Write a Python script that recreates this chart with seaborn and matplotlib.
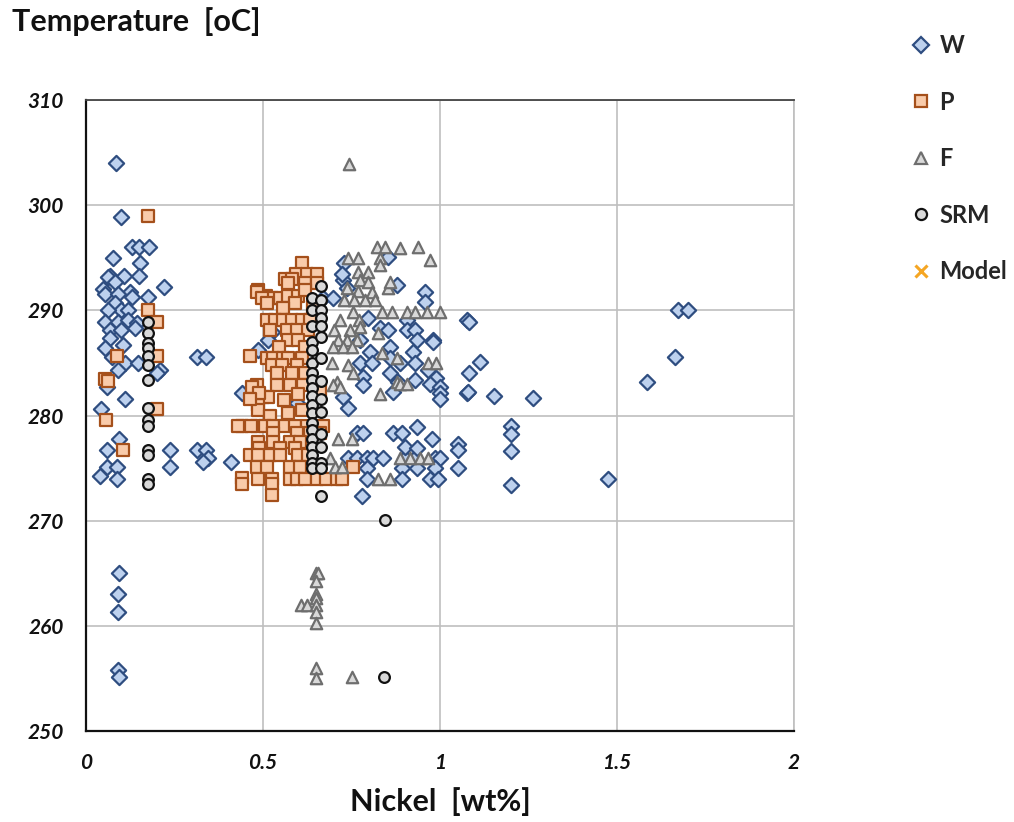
import matplotlib
matplotlib.use("Agg")
import matplotlib.pyplot as plt
from matplotlib.lines import Line2D
import seaborn as sns
import pandas as pd

# ---- data: nickel content [wt%] vs temperature [oC] ----
w_x = [0.085, 0.099, 0.13, 0.15, 0.178, 0.077, 0.153, 0.068, 0.108, 0.15, 0.062,
       0.22, 0.048, 0.082, 0.124, 0.175, 0.054, 0.09, 0.13, 0.082, 0.1, 0.119, 0.062,
       0.054, 0.09, 0.119, 0.144, 0.068, 0.1, 0.138, 0.068, 0.054, 0.104, 0.073, 0.11,
       0.147, 0.09, 0.209, 0.2, 0.059, 0.11, 0.042, 0.093, 0.059, 0.237, 0.059, 0.088,
       0.04, 0.088, 0.237, 0.313, 0.34, 0.345, 0.33, 0.41, 0.44, 0.313, 0.34,
       0.093, 0.09, 0.09, 0.09, 0.093,
       0.525, 0.514, 0.486, 0.67, 0.698, 0.726, 0.73, 0.723, 0.737,
       0.853, 0.878, 0.958, 0.958, 0.797, 0.83, 0.853, 0.907, 0.907, 0.929, 0.935, 0.98,
       1.076, 0.858, 0.802, 0.924, 0.774, 0.858, 0.774, 0.808, 0.887, 0.93, 0.783, 0.858,
       0.99, 0.93, 0.966, 0.88, 0.98,
       0.596, 0.726, 0.74, 0.783, 0.867, 0.972, 1.0, 1.0, 1.0, 1.077,
       0.765, 0.783, 0.867, 0.893, 0.935, 0.977, 1.05, 1.05,
       0.74, 0.765, 0.793, 0.81, 0.84, 0.90, 0.93, 0.986, 1.0, 0.9, 0.935,
       0.793, 0.893, 0.935, 0.986, 1.05, 0.793, 0.893, 0.972, 0.994, 0.78,
       1.082, 1.113, 1.082, 1.08, 1.153, 1.262, 1.20, 1.20, 1.20, 1.20, 1.475,
       1.672, 1.70, 1.664, 1.585]
w_y = [304.0, 298.9, 296.0, 296.0, 296.0, 295.0, 294.5, 293.3, 293.3, 293.3, 293.2,
       292.2, 292.0, 292.7, 291.7, 291.3, 291.6, 291.6, 291.3, 290.7, 290.0, 290.0, 290.0,
       288.9, 288.9, 289.1, 288.8, 288.1, 288.1, 288.3, 287.4, 286.4, 286.7, 285.6, 285.0,
       285.0, 284.3, 284.3, 284.0, 282.7, 281.6, 280.6, 277.8, 276.7, 276.7, 275.1, 275.1,
       274.2, 274.0, 275.1, 276.7, 276.7, 276.0, 275.6, 275.6, 282.1, 285.6, 285.6,
       265.0, 263.0, 261.3, 255.8, 255.1,
       287.9, 287.2, 286.2, 291.2, 291.2, 292.9, 294.5, 293.5, 292.1,
       295.1, 292.4, 291.7, 290.8, 289.3, 288.3, 288.1, 289.1, 288.1, 288.1, 287.2, 287.2,
       289.1, 286.5, 286.0, 286.0, 287.2, 285.5, 285.0, 285.0, 285.0, 285.0, 283.7, 284.0,
       283.6, 283.4, 284.3, 283.2, 287.0,
       281.2, 281.8, 280.7, 282.9, 282.2, 283.0, 282.7, 282.1, 281.6, 282.1,
       278.3, 278.3, 278.3, 278.3, 278.9, 277.8, 277.3, 276.7,
       276.0, 276.0, 276.0, 276.0, 276.0, 276.0, 276.0, 276.0, 276.0, 277.0, 276.9,
       275.0, 275.0, 275.0, 275.0, 275.0, 274.0, 274.0, 274.0, 274.0, 272.3,
       288.9, 285.1, 284.0, 282.2, 281.9, 281.7, 279.0, 278.2, 276.6, 273.4, 274.0,
       290.0, 290.0, 285.6, 283.2]

p_x = [0.175, 0.175, 0.2, 0.087, 0.2, 0.055, 0.062, 0.2, 0.056, 0.105,
       0.61, 0.593, 0.624, 0.652, 0.562, 0.582, 0.571, 0.619, 0.652,
       0.486, 0.508, 0.525, 0.548, 0.571, 0.60, 0.62, 0.483, 0.497,
       0.51, 0.59, 0.556, 0.64,
       0.51, 0.534, 0.557, 0.582, 0.61, 0.633,
       0.52, 0.568, 0.596, 0.627, 0.57, 0.60, 0.545, 0.62,
       0.463, 0.51, 0.528, 0.557, 0.571, 0.61, 0.596, 0.525, 0.553, 0.582, 0.54, 0.62,
       0.483, 0.5, 0.54, 0.576, 0.613, 0.514, 0.486, 0.486, 0.661, 0.47, 0.49, 0.463,
       0.56, 0.6, 0.52, 0.57, 0.61,
       0.44, 0.483, 0.505, 0.528, 0.562, 0.59, 0.624, 0.67, 0.43, 0.466,
       0.528, 0.596, 0.633, 0.661,
       0.486, 0.528, 0.576, 0.604,
       0.49, 0.548, 0.59,
       0.463, 0.486, 0.52, 0.548, 0.6, 0.627,
       0.483, 0.51, 0.576, 0.604, 0.66, 0.755,
       0.486, 0.525, 0.576, 0.596, 0.62, 0.652, 0.678, 0.709, 0.723,
       0.44, 0.44, 0.525, 0.525]
p_y = [299.0, 290.0, 288.9, 285.7, 285.7, 283.5, 283.3, 280.6, 279.6, 276.7,
       294.5, 293.5, 293.5, 293.5, 293.0, 293.0, 292.6, 292.6, 292.6,
       291.9, 291.4, 291.2, 291.2, 291.4, 291.4, 291.9, 291.7, 291.2,
       290.7, 290.7, 290.2, 290.3,
       289.1, 289.1, 289.1, 289.1, 289.1, 289.1,
       288.1, 288.1, 288.1, 288.1, 287.2, 287.2, 286.5, 286.5,
       285.7, 285.5, 285.5, 285.5, 285.5, 285.5, 284.8, 284.8, 284.8, 284.0, 284.0, 284.0,
       282.9, 281.8, 282.9, 282.9, 282.9, 281.8, 281.0, 280.5, 282.4, 282.7, 282.1, 281.6,
       281.5, 282.0, 280.0, 280.2, 280.5,
       279.0, 279.0, 279.0, 279.0, 279.0, 279.0, 279.0, 279.0, 279.0, 279.0,
       278.3, 278.3, 278.3, 278.3,
       277.5, 277.5, 277.5, 277.5,
       276.9, 276.9, 276.9,
       276.2, 276.2, 276.2, 276.2, 276.2, 276.2,
       275.1, 275.1, 275.1, 275.1, 275.1, 275.1,
       274.0, 274.0, 274.0, 274.0, 274.0, 274.0, 274.0, 274.0, 274.0,
       274.1, 273.5, 273.5, 272.4]

f_x = [0.743, 0.822, 0.845, 0.887, 0.938, 0.972, 0.74, 0.768, 0.83,
       0.768, 0.797, 0.83, 0.774, 0.797, 0.853, 0.858, 0.737, 0.768, 0.808,
       0.73, 0.757, 0.788, 0.816,
       0.755, 0.836, 0.864, 0.907, 0.929, 0.963, 1.0, 0.77, 0.718,
       0.70, 0.746, 0.774, 0.825, 0.712, 0.737, 0.765, 0.698, 0.725, 0.75,
       0.836, 0.878, 0.695, 0.74, 0.966, 0.99, 0.755, 0.709, 0.878,
       0.698, 0.717, 0.83, 0.887, 0.906,
       0.712, 0.75, 0.69, 0.887, 0.915, 0.943, 0.966, 0.703, 0.723, 0.825, 0.858,
       0.65, 0.655, 0.65, 0.65, 0.65, 0.607, 0.625, 0.65, 0.65, 0.65, 0.65, 0.65, 0.75]
f_y = [303.9, 296.0, 296.0, 295.9, 296.0, 294.8, 295.0, 295.0, 295.0,
       293.6, 293.6, 294.3, 292.9, 292.7, 292.1, 292.7, 292.1, 291.8, 291.7,
       291.0, 291.0, 291.0, 291.0,
       289.8, 289.8, 289.8, 289.8, 289.8, 289.8, 289.8, 289.1, 289.1,
       288.1, 288.1, 288.4, 287.8, 287.2, 287.2, 287.2, 286.5, 286.5, 286.5,
       285.9, 285.5, 285.0, 284.8, 285.0, 285.0, 284.0, 283.2, 283.2,
       282.9, 282.7, 282.0, 283.0, 283.0,
       277.8, 277.8, 276.0, 276.0, 276.0, 276.0, 276.0, 275.1, 275.1, 274.0, 274.0,
       265.0, 265.0, 264.3, 263.0, 262.6, 262.0, 262.0, 262.0, 261.3, 260.3, 256.0, 255.0, 255.1]

srm_x = [0.175] * 14 + [0.638] * 19 + [0.664] * 15 + [0.845, 0.842]
srm_y = [288.9, 287.8, 286.9, 286.4, 285.7, 284.8, 283.4, 280.7, 279.6, 279.0,
         276.7, 276.2, 274.0, 273.5,
         291.2, 290.0, 288.5, 287.0, 286.2, 285.0, 284.0, 283.4, 282.6, 281.9,
         281.0, 280.2, 279.3, 278.6, 277.8, 277.0, 276.2, 275.5, 275.0,
         292.3, 291.0, 290.0, 289.3, 288.5, 287.5, 285.5, 283.3, 281.6, 280.3,
         278.2, 277.0, 275.5, 275.0, 272.3,
         270.1, 255.1]

model_x = []
model_y = []

x_ticks = [0, 0.5, 1, 1.5, 2]
x_tick_labels = ["0", "0.5", "1", "1.5", "2"]
y_ticks = [250, 260, 270, 280, 290, 300, 310]
y_tick_labels = ["250", "260", "270", "280", "290", "300", "310"]

# ---- styling ----
sns.set_style("white")
plt.rcParams["font.family"] = ["Lato", "DejaVu Sans"]

series = [
    ("W", w_x, w_y, dict(marker="D", s=60, color="#BDD1EE", edgecolor="#2E4D80", linewidth=1.6)),
    ("P", p_x, p_y, dict(marker="s", s=66, color="#F9CBAA", edgecolor="#A5501B", linewidth=1.6)),
    ("F", f_x, f_y, dict(marker="^", s=68, color="#D9D9D9", edgecolor="#6E6E6E", linewidth=1.6)),
    ("SRM", srm_x, srm_y, dict(marker="o", s=60, color="#D9D9D9", edgecolor="#111111", linewidth=1.6)),
    ("Model", model_x, model_y, dict(marker="x", s=40, color="#F5A623", linewidth=2.0)),
]

fig = plt.figure(figsize=(10.14, 8.22), dpi=100)
ax = fig.add_axes([86 / 1014, 91 / 822, 708 / 1014, 631 / 822])

for name, xs, ys, kw in series:
    if len(xs):
        df = pd.DataFrame({"x": xs, "y": ys})
        sns.scatterplot(data=df, x="x", y="y", ax=ax, zorder=3, legend=False, **kw)

ax.set_xlim(0, 2)
ax.set_ylim(250, 310)
ax.set_xticks(x_ticks)
ax.set_xticklabels(x_tick_labels)
ax.set_yticks(y_ticks)
ax.set_yticklabels(y_tick_labels)
ax.set_xlabel("")
ax.set_ylabel("")

ax.grid(True, color="#BFBFBF", linewidth=1.2, zorder=0)
ax.set_axisbelow(True)
for side in ("left", "bottom"):
    ax.spines[side].set_color("#111111")
    ax.spines[side].set_linewidth(1.6)
ax.spines["top"].set_color("#444444")
ax.spines["top"].set_linewidth(1.3)
ax.spines["right"].set_color("#BFBFBF")
ax.spines["right"].set_linewidth(1.2)

ax.tick_params(axis="both", direction="out", length=6, width=1.5, color="#111111",
               pad=10, labelsize=15, labelcolor="#111111")
for lbl in ax.get_xticklabels() + ax.get_yticklabels():
    lbl.set_fontweight("bold")
    lbl.set_fontstyle("italic")

fig.text(12 / 1014, 1 - 22 / 822, "Temperature  [oC]", ha="left", va="center",
         fontsize=22, fontweight="bold", color="#111111")
fig.text(440 / 1014, 1 - 802 / 822, "Nickel  [wt%]", ha="center", va="center",
         fontsize=22, fontweight="bold", color="#111111")

handles = []
for name, xs, ys, kw in series:
    if kw["marker"] == "x":
        h = Line2D([], [], linestyle="none", marker="x", markersize=8,
                   color=kw["color"], markeredgewidth=2.2)
    else:
        h = Line2D([], [], linestyle="none", marker=kw["marker"], markersize=8,
                   markerfacecolor=kw["color"], markeredgecolor=kw["edgecolor"],
                   markeredgewidth=1.6)
    handles.append(h)

fig.legend(handles, [s[0] for s in series], loc="upper left",
           bbox_to_anchor=(912 / 1014, 1 - 34 / 822), frameon=False,
           prop=dict(weight="bold", size=17), labelspacing=1.42,
           handletextpad=0.36, handlelength=0.8, borderaxespad=0, borderpad=0)

fig.savefig("out.png", dpi=100)
